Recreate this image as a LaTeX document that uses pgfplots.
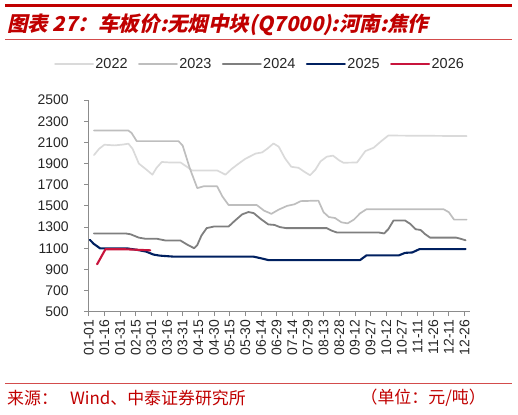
\documentclass[border=0pt]{standalone}
\usepackage{pgfplots}
\pgfplotsset{compat=1.18}
\usepackage{fontspec}
\setmainfont{Liberation Sans}
\newfontfamily\cjk{Noto Sans CJK SC}
\newfontfamily\cjkit[FakeSlant=0.22]{Noto Sans CJK SC}
\definecolor{ctitle}{HTML}{C00000}
\definecolor{c22}{HTML}{DADADA}
\definecolor{c23}{HTML}{BEBEBE}
\definecolor{c24}{HTML}{7F7F7F}
\definecolor{c25}{HTML}{002060}
\definecolor{c26}{HTML}{C8143C}
\definecolor{axgray}{HTML}{8C8C8C}
\begin{document}
\begin{tikzpicture}[x=1bp,y=1bp]
\useasboundingbox (0,0) rectangle (518,414);
% header lines
\fill[ctitle] (5,414-4.5) rectangle (512,414-7.5);
\draw[ctitle!70, line width=0.6bp] (5,414-39) -- (512,414-39);
\draw[ctitle!70, line width=0.6bp] (5,414-383) -- (512,414-383);
\node[anchor=west, inner sep=0, text=ctitle] at (7,414-25) {\fontsize{20.6}{23}\selectfont\cjkit\bfseries 图表 27：车板价:无烟中块(Q7000):河南:焦作};
\node[anchor=west, inner sep=0, text=ctitle] at (7,414-398) {\fontsize{17}{19}\selectfont\cjk 来源：\hspace{12bp}Wind、中泰证券研究所};
\node[anchor=east, inner sep=0, text=ctitle] at (486,414-398) {\fontsize{17}{19}\selectfont\cjk （单位：元/吨）};
\begin{axis}[
  at={(85,414-317.3)}, anchor=south west,
  width=381bp, height=211.6bp, scale only axis,
  xmin=0, xmax=365, ymin=500, ymax=2500,
  axis x line*=bottom, axis y line*=left,
  axis line style={axgray, line width=1bp},
  tick style={axgray, line width=0.8bp},
  tick align=outside, major tick length=4.5bp,
  xtick={0,15,...,360},
  xticklabels={01-01,01-16,01-31,02-15,03-01,03-16,03-31,04-15,04-30,05-15,05-30,06-14,06-29,07-14,07-29,08-13,08-28,09-12,09-27,10-12,10-27,11-11,11-26,12-11,12-26},
  ytick={500,700,...,2500},
  /pgf/number format/assume math mode=true,
  /pgf/number format/1000 sep={},
  tick label style={font=\fontsize{14}{16}\selectfont, text=black!85},
  xticklabel style={rotate=90, anchor=east, xshift=0bp},
  yticklabel style={xshift=-12bp},
  legend columns=5,
  legend style={draw=none, fill=none, at={(0.449,1.169)}, anchor=center,
    font=\fontsize{14.5}{16}\selectfont, text=black!85,
    nodes={inner sep=1.5bp},
    /tikz/every even column/.append style={column sep=9bp}},
  legend image code/.code={\draw[#1] (0bp,0bp) -- (38bp,0bp);},
  every axis plot/.append style={line join=round, line cap=round},
]
\addplot[c22, line width=1.7bp] coordinates {
(5,1980) (10,2040) (15,2078) (25,2072) (33,2080) (38,2088) (42,2040) (48,1900) (55,1845) (61,1795) (65,1860) (70,1915) (78,1910) (88,1910) (94,1870) (99,1835) (123,1835) (131,1795) (137,1850) (143,1895) (150,1945) (160,1995) (166,2005) (171,2040) (177,2090) (182,2060) (188,1950) (194,1870) (201,1860) (207,1820) (212,1790) (217,1840) (222,1920) (228,1965) (234,1975) (240,1930) (244,1908) (257,1910) (265,2018) (273,2050) (280,2110) (287,2165) (362,2160)};
\addlegendentry{2022}
\addplot[c23, line width=1.7bp] coordinates {
(5,2212) (38,2212) (41,2190) (46,2112) (86,2112) (90,2070) (97,1850) (104,1668) (110,1685) (123,1685) (128,1590) (134,1508) (161,1508) (168,1455) (175,1425) (182,1465) (190,1500) (197,1515) (203,1545) (220,1550) (225,1440) (230,1395) (236,1385) (242,1345) (248,1335) (254,1370) (260,1430) (266,1468) (340,1468) (345,1440) (350,1370) (362,1370)};
\addlegendentry{2023}
\addplot[c24, line width=1.8bp] coordinates {
(5,1240) (35,1240) (40,1232) (48,1200) (54,1190) (65,1190) (74,1172) (88,1172) (95,1130) (101,1100) (104,1130) (108,1220) (113,1290) (120,1305) (134,1305) (140,1360) (147,1420) (153,1442) (158,1432) (165,1375) (172,1325) (178,1320) (183,1300) (189,1290) (228,1290) (233,1265) (238,1248) (278,1248) (283,1240) (287,1280) (292,1362) (303,1362) (308,1330) (313,1280) (318,1272) (322,1235) (327,1200) (352,1200) (356,1190) (361,1175)};
\addlegendentry{2024}
\addplot[c25, line width=2.1bp] coordinates {
(1,1180) (5,1140) (11,1098) (37,1098) (46,1085) (55,1068) (62,1040) (68,1030) (82,1020) (158,1020) (165,1005) (172,988) (260,988) (266,1032) (297,1032) (303,1056) (310,1060) (317,1092) (361,1092)};
\addlegendentry{2025}
\addplot[c26, line width=2.1bp] coordinates {
(8,948) (16,1090) (35,1090) (59,1080)};
\addlegendentry{2026}
\end{axis}
\end{tikzpicture}
\end{document}
